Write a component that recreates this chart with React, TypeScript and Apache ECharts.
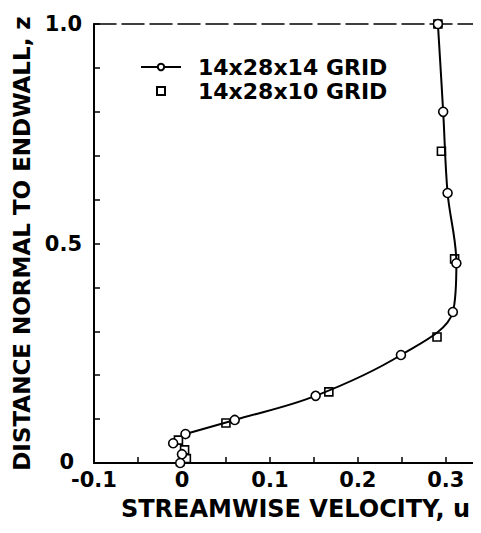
import React, { useEffect, useRef } from "react";
import * as echarts from "echarts";

// 14x28x14 grid (circles), joined by the faired curve
const circleU = [0.004, 0.060, 0.152, 0.249, 0.308, 0.312, 0.302, 0.297, 0.291];
const circleZ = [0.066, 0.098, 0.153, 0.246, 0.344, 0.455, 0.615, 0.800, 1.000];
// 14x28x10 grid (squares)
const squareU = [0.291, 0.295, 0.310, 0.290, 0.167, 0.050, -0.004, 0.003, 0.005];
const squareZ = [1.000, 0.710, 0.465, 0.287, 0.162, 0.091, 0.052, 0.030, 0.010];
// near-wall circles of the 14x28x14 grid
const wallU = [-0.010, 0.000, -0.002];
const wallZ = [0.045, 0.020, 0.000];

const xTickLabels = ["-0.1", "0", "0.1", "0.2", "0.3"];
const yTickLabels = ["0", "0.5", "1.0"];
const seriesNames = ["14x28x14 GRID", "14x28x10 GRID"];

const FONT = "DejaVu Sans";

export default function App() {
  const ref = useRef<HTMLDivElement>(null);
  useEffect(() => {
    const chart = echarts.init(ref.current!, null, { renderer: "svg" });
    const zip = (a: number[], b: number[]) => a.map((v, i) => [v, b[i]]);
    const markerStyle = () => ({ color: "#fff", borderColor: "#000", borderWidth: 1.6, opacity: 1 });
    chart.setOption({
      animation: false,
      backgroundColor: "#fff",
      grid: { left: 94, top: 24, right: 0, bottom: 70 },
      legend: {
        orient: "vertical",
        left: 140,
        top: 55,
        padding: 0,
        itemWidth: 40,
        itemHeight: 8,
        itemGap: 0,
        textStyle: {
          fontFamily: FONT,
          fontWeight: "bold",
          fontSize: 22,
          color: "#000",
          lineHeight: 24,
          padding: [0, 0, 0, 12],
        },
        data: [
          { name: seriesNames[0] },
          { name: seriesNames[1], icon: "path://M0,0H8V8H0Z" },
        ],
      },
      xAxis: [
        {
          type: "value",
          position: "bottom",
          min: -0.1,
          max: 0.34,
          interval: 0.05,
          splitLine: { show: false },
          axisLine: { onZero: false, lineStyle: { color: "#000", width: 2 } },
          axisTick: { show: true, inside: true, length: 6, lineStyle: { color: "#000", width: 1.5 } },
          axisLabel: {
            margin: 6,
            fontFamily: FONT,
            fontWeight: "bold",
            fontSize: 21,
            color: "#000",
            showMaxLabel: false,
            formatter: (v: number) => {
              const k = Math.round(v / 0.1);
              if (Math.abs(v - k * 0.1) > 1e-6) return "";
              const i = k + 1;
              return i >= 0 && i < xTickLabels.length ? xTickLabels[i] : "";
            },
          },
          name: "STREAMWISE VELOCITY, u",
          nameLocation: "middle",
          nameGap: 34,
          nameTextStyle: {
            fontFamily: FONT,
            fontWeight: "bold",
            fontSize: 24,
            color: "#000",
            padding: [0, 0, 0, 16],
          },
        },
        {
          type: "value",
          position: "top",
          min: -0.1,
          max: 0.34,
          axisLine: { show: true, onZero: false, lineStyle: { color: "#000", width: 1.5, type: [22, 6] } },
          axisTick: { show: false },
          axisLabel: { show: false },
          splitLine: { show: false },
        },
      ],
      yAxis: {
        type: "value",
        min: 0,
        max: 1,
        interval: 0.1,
        splitLine: { show: false },
        axisLine: { onZero: false, lineStyle: { color: "#000", width: 2 } },
        axisTick: { inside: true, length: 6, lineStyle: { color: "#000", width: 1.5 } },
        axisLabel: {
          margin: 12,
          fontFamily: FONT,
          fontWeight: "bold",
          fontSize: 21,
          color: "#000",
          formatter: (v: number) => {
            if (Math.abs(v) < 1e-6) return "{z|" + yTickLabels[0] + "}";
            if (Math.abs(v - 0.5) < 1e-6) return yTickLabels[1];
            if (Math.abs(v - 1) < 1e-6) return yTickLabels[2];
            return "";
          },
          rich: {
            z: {
              fontFamily: FONT,
              fontWeight: "bold",
              fontSize: 21,
              color: "#000",
              padding: [0, 8, 2, 0],
            },
          },
        },
        name: "DISTANCE NORMAL TO ENDWALL, z",
        nameLocation: "middle",
        nameGap: 60,
        nameTextStyle: {
          fontFamily: FONT,
          fontWeight: "bold",
          fontSize: 23,
          color: "#000",
        },
      },
      series: [
        {
          name: seriesNames[1],
          type: "scatter",
          symbol: "rect",
          symbolSize: 8,
          itemStyle: markerStyle(),
          data: zip(squareU, squareZ),
          z: 3,
        },
        {
          name: seriesNames[0],
          type: "line",
          smooth: 0.35,
          symbol: "circle",
          symbolSize: 9,
          showAllSymbol: true,
          lineStyle: { color: "#000", width: 2 },
          itemStyle: markerStyle(),
          data: zip(circleU, circleZ),
          z: 4,
        },
        {
          name: "wall",
          type: "scatter",
          symbol: "circle",
          symbolSize: 9,
          itemStyle: markerStyle(),
          data: zip(wallU, wallZ),
          z: 4,
        },
      ],
    });
    return () => chart.dispose();
  }, []);
  return <div ref={ref} style={{ width: 481, height: 533, margin: -8 }} />;
}
